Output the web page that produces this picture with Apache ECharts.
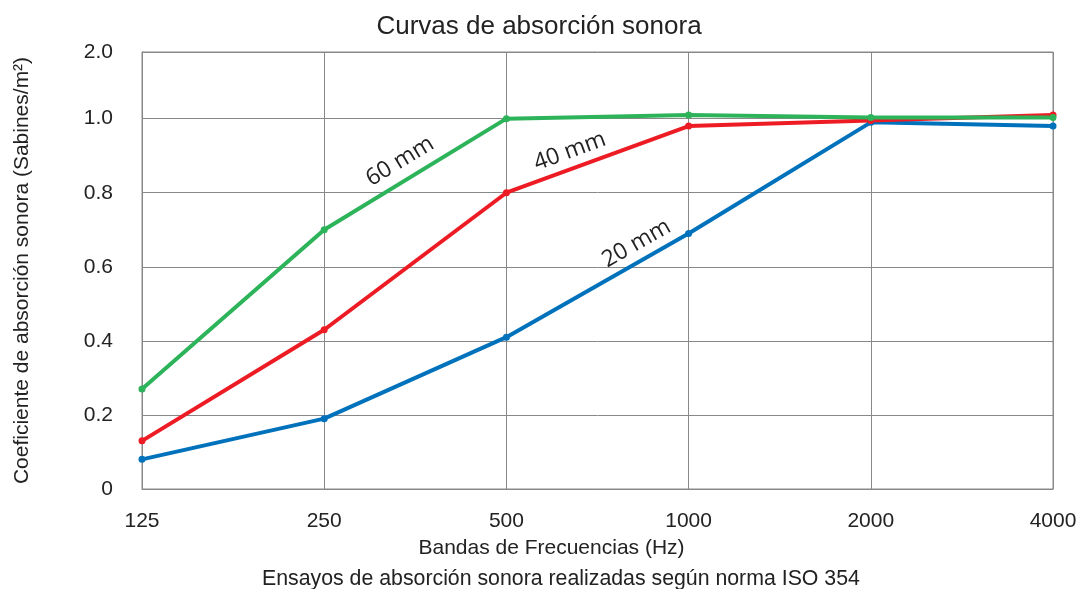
<!DOCTYPE html>
<html>
<head>
<meta charset="utf-8">
<script src="https://cdn.jsdelivr.net/npm/echarts@6/dist/echarts.min.js"></script>
<style>html,body{margin:0;padding:0;background:#fff;}#c{width:1078px;height:589px;}</style>
</head>
<body>
<div id="c"></div>
<script>
const categories = ['125', '250', '500', '1000', '2000', '4000'];
const s20 = [0.08, 0.19, 0.41, 0.69, 0.99, 0.98];
const s40 = [0.13, 0.43, 0.80, 0.98, 0.995, 1.01];
const s60 = [0.27, 0.70, 1.00, 1.01, 1.003, 1.003];
const seriesNames = ['20 mm', '40 mm', '60 mm'];
const yTop = 1.18; // top gridline, labelled "2.0" in the original
const topLabel = '2.0';

const colors = {'20 mm': '#0072bc', '40 mm': '#ed1c24', '60 mm': '#2db35a'};
const chart = echarts.init(document.getElementById('c'), null, {renderer: 'canvas'});
const ff = '"Liberation Sans", Arial, sans-serif';

function mkSeries(name, data) {
  return {
    name: name, type: 'line', data: data,
    symbol: 'circle', symbolSize: 7,
    lineStyle: {width: 4, color: colors[name]},
    itemStyle: {color: colors[name]},
    animation: false
  };
}

chart.setOption({
  animation: false,
  title: [
    {text: 'Curvas de absorción sonora', left: 'center', top: 9,
     textStyle: {fontFamily: ff, fontWeight: 'normal', fontSize: 26, color: '#222'}},
    {text: 'Ensayos de absorción sonora realizadas según norma ISO 354', left: 257, top: 564,
     textStyle: {fontFamily: ff, fontWeight: 'normal', fontSize: 21.3, color: '#222'}}
  ],
  grid: {left: 142, right: 25, top: 52, bottom: 100, show: true, borderColor: '#888', borderWidth: 1,
         containLabel: false, outerBoundsMode: 'none'},
  xAxis: {
    type: 'category', data: categories, boundaryGap: false,
    name: 'Bandas de Frecuencias (Hz)', nameLocation: 'middle', nameGap: 49,
    nameTextStyle: {fontFamily: ff, fontSize: 21, color: '#222', padding: [0, 92, 0, 0]},
    axisLine: {lineStyle: {color: '#888', width: 1}},
    axisTick: {show: false},
    axisLabel: {fontFamily: ff, fontSize: 21, color: '#222', margin: 22},
    splitLine: {show: true, lineStyle: {color: '#888', width: 1}}
  },
  yAxis: {
    type: 'value', min: 0, max: yTop, interval: 0.2,
    name: 'Coeficiente de absorción sonora (Sabines/m²)', nameLocation: 'middle', nameGap: 109,
    nameTextStyle: {fontFamily: ff, fontSize: 21, color: '#222'},
    axisLine: {show: true, lineStyle: {color: '#888', width: 1}},
    axisTick: {show: false},
    axisLabel: {fontFamily: ff, fontSize: 21, color: '#222', margin: 29,
      formatter: function (v) { if (v > 1.05) return topLabel; return v === 0 ? '0' : v.toFixed(1); }},
    splitLine: {show: true, lineStyle: {color: '#888', width: 1}}
  },
  series: [mkSeries('20 mm', s20), mkSeries('40 mm', s40), mkSeries('60 mm', s60)]
});

// Line annotations placed along their segments
const annots = [
  {si: 2, data: s60, i: 1, t: 0.47, d: 19},
  {si: 1, data: s40, i: 2, t: 0.38, d: 17},
  {si: 0, data: s20, i: 2, t: 0.76, d: 17}
];
const graphics = annots.map(function (a) {
  const p1 = chart.convertToPixel({seriesIndex: a.si}, [a.i, a.data[a.i]]);
  const p2 = chart.convertToPixel({seriesIndex: a.si}, [a.i + 1, a.data[a.i + 1]]);
  const dx = p2[0] - p1[0], dy = p2[1] - p1[1];
  const len = Math.sqrt(dx * dx + dy * dy);
  const ux = dx / len, uy = dy / len;
  const nx = uy, ny = -ux;
  const x = p1[0] + dx * a.t + nx * a.d;
  const y = p1[1] + dy * a.t + ny * a.d;
  return {
    type: 'text', x: x, y: y, rotation: Math.atan2(-dy, dx),
    style: {text: seriesNames[a.si], fontFamily: '"Open Sans", sans-serif', fontSize: 23, fill: '#222',
            textAlign: 'center', textVerticalAlign: 'middle'},
    z: 100
  };
});
chart.setOption({graphic: graphics});
</script>
</body>
</html>
